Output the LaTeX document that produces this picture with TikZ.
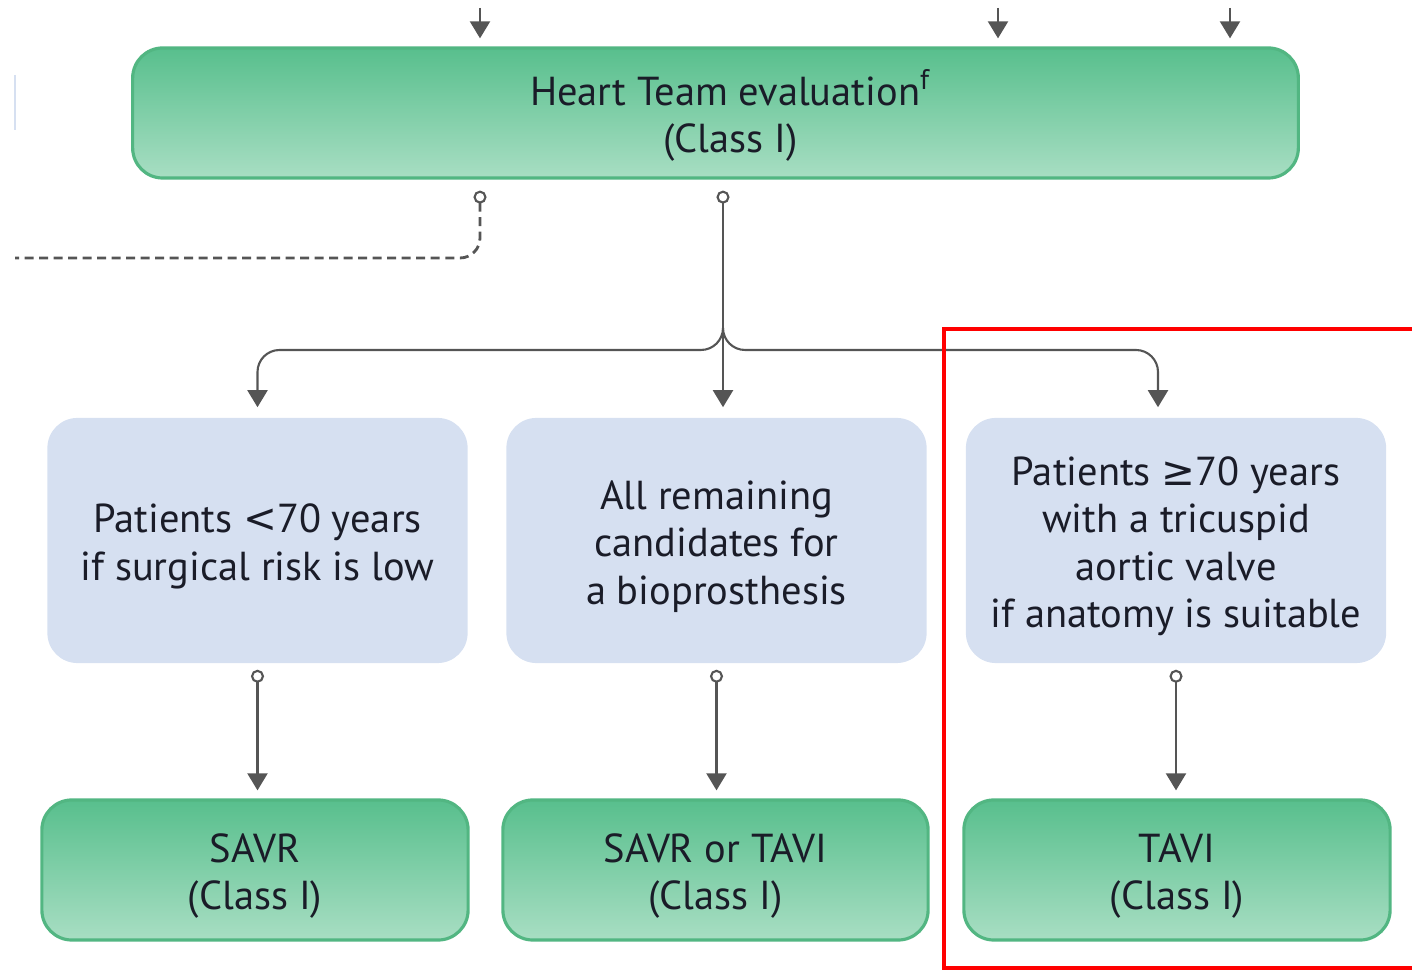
\documentclass[tikz,border=0pt]{standalone}
\usepackage{fontspec}
\setmainfont{PT Sans}
\newfontfamily\symbfont{DejaVu Sans}
\usetikzlibrary{arrows.meta}
\definecolor{boxgreen}{HTML}{58BF8D}
\definecolor{boxgreenlight}{HTML}{A8DEC3}
\definecolor{boxgreenedge}{HTML}{52B682}
\definecolor{boxblue}{HTML}{D6E0F1}
\definecolor{linegray}{HTML}{555555}
\definecolor{textdark}{HTML}{1A1C28}
\newcommand{\lift}{\rule{0pt}{11.5pt}}

\begin{document}
\begin{tikzpicture}[x=0.01cm, y=-0.01cm,
		every node/.style={font=\fontsize{11.5}{13.5}\selectfont, text=textdark, align=center},
		greenbox/.style={rounded corners=0.3cm, draw=boxgreenedge, line width=0.9pt, top color=boxgreen, bottom color=boxgreenlight, inner sep=0pt},
		bluebox/.style={rounded corners=0.3cm, fill=boxblue, inner sep=0pt, minimum width=4.2cm, minimum height=2.45cm},
		conn/.style={draw=linegray, line width=0.6pt, -{Triangle[width=0.2cm,length=0.17cm]}},
		knob/.style={{Circle[open,length=0.13cm,width=0.13cm,fill=white]}-{Triangle[width=0.2cm,length=0.17cm]}}]
	\useasboundingbox (0,0) rectangle (1412,971);
	\node[greenbox, minimum width=11.65cm, minimum height=1.3cm] (heart) at (715.5,113) {\lift\hspace*{0.3cm}Heart Team evaluation\textsuperscript{f}\\\hspace*{0.3cm}(Class I)};
	\node[bluebox] (young) at (257.5,540.5) {\lift Patients {\symbfont<}70 years\\if surgical risk is low};
	\node[bluebox] (rest) at (716.5,540.5) {\lift All remaining\\candidates for\\a bioprosthesis};
	\node[bluebox] (old) at (1176,540.5) {\lift Patients {\symbfont≥}70 years\\with a tricuspid\\aortic valve\\if anatomy is suitable};
	\node[greenbox, minimum width=4.26cm, minimum height=1.4cm] (savr) at (255,870) {\lift SAVR\\(Class I)};
	\node[greenbox, minimum width=4.25cm, minimum height=1.4cm] (either) at (715.5,870) {\lift SAVR or TAVI\\(Class I)};
	\node[greenbox, minimum width=4.26cm, minimum height=1.4cm] (tavi) at (1177,870) {\lift TAVI\\(Class I)};
	\coordinate (top1) at (480,8);
	\coordinate (top2) at (998,8);
	\coordinate (top3) at (1230,8);
	\coordinate (split) at (723,350);
	\coordinate (dashend) at (15,258);
	\foreach \t in {top1, top2, top3}
		\draw[conn, shorten >=0.08cm] (\t) -- (\t |- heart.north);
	\draw[linegray, line width=0.8pt, dash pattern=on 0.09cm off 0.055cm, rounded corners=0.2cm, {Circle[open,length=0.13cm,width=0.13cm,fill=white,line width=0.6pt]}-, shorten <=0.11cm] (heart.south -| top1) |- (dashend);
	\draw[boxblue, line width=0.6pt] (15,75) -- (15,130);
	\draw[conn, knob, shorten <=0.11cm, shorten >=0.1cm] (heart.south -| split) -- (split |- rest.north);
	\draw[conn, rounded corners=0.22cm, shorten >=0.1cm] ([yshift=0.22cm]split) -- (split) -| (young.north);
	\draw[conn, rounded corners=0.22cm, shorten >=0.1cm] ([yshift=0.22cm]split) -- (split) -| ([xshift=-0.18cm]old.north);
	\foreach \a/\b in {young/savr, rest/either, old/tavi}
		\draw[conn, knob, shorten <=0.06cm, shorten >=0.08cm] (\a.south) -- (\a.south |- \b.north);
	\draw[red, line width=1.2pt] (944,329) rectangle (1430,968);
\end{tikzpicture}
\end{document}
